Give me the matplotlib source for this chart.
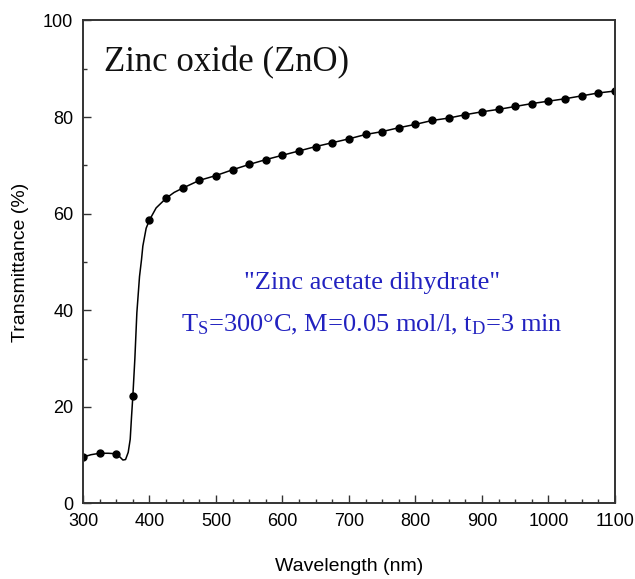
import matplotlib
matplotlib.use("Agg")
import matplotlib.pyplot as plt
from matplotlib.ticker import MultipleLocator

# Transmittance curve (line)
wl_line = [300, 312, 325, 338, 350, 355, 360, 364, 368, 371, 373, 375, 378, 381,
           385, 388, 390, 395, 400, 410, 425, 437, 450, 475, 500, 525, 550, 575,
           600, 625, 650, 675, 700, 725, 750, 775, 800, 825, 850, 875, 900, 925,
           950, 975, 1000, 1025, 1050, 1075, 1100]
tr_line = [9.6, 10.1, 10.4, 10.4, 10.3, 9.7, 9.0, 9.1, 10.6, 13.3, 18.0, 22.3, 30.0, 39.5,
           47.0, 50.5, 53.3, 57.0, 58.7, 61.2, 63.2, 64.4, 65.3, 66.9, 67.9, 69.1, 70.2, 71.2,
           72.1, 73.0, 73.9, 74.7, 75.5, 76.4, 77.0, 77.8, 78.5, 79.3, 79.8, 80.5, 81.1, 81.6,
           82.2, 82.8, 83.3, 83.8, 84.4, 85.0, 85.4]

# Marker points every 25 nm
wl_pts = [300, 325, 350, 375, 400, 425, 450, 475, 500, 525, 550, 575, 600, 625, 650,
          675, 700, 725, 750, 775, 800, 825, 850, 875, 900, 925, 950, 975, 1000,
          1025, 1050, 1075, 1100]
tr_pts = [9.6, 10.4, 10.3, 22.3, 58.7, 63.2, 65.3, 66.9, 67.9, 69.1, 70.2, 71.2, 72.1,
          73.0, 73.9, 74.7, 75.5, 76.4, 77.0, 77.8, 78.5, 79.3, 79.8, 80.5, 81.1, 81.6,
          82.2, 82.8, 83.3, 83.8, 84.4, 85.0, 85.4]

plt.rcParams["font.family"] = ["Liberation Sans", "DejaVu Sans"]
plt.rcParams["mathtext.fontset"] = "custom"
plt.rcParams["mathtext.rm"] = "Liberation Serif"

fig = plt.figure(figsize=(6.35, 5.79), dpi=100)
ax = fig.add_axes([0.1307, 0.1304, 0.8378, 0.8342])

ax.plot(wl_line, tr_line, color="black", lw=1.1)
ax.plot(wl_pts, tr_pts, "o", color="black", ms=5)

ax.set_xlim(300, 1100)
ax.set_ylim(0, 100)
ax.xaxis.set_major_locator(MultipleLocator(100))
ax.xaxis.set_minor_locator(MultipleLocator(25))
ax.yaxis.set_major_locator(MultipleLocator(20))
ax.yaxis.set_minor_locator(MultipleLocator(10))
ax.tick_params(which="both", direction="in", top=False, right=False, labelsize=13,
               color="#333333", width=1.0)
ax.tick_params(which="major", length=6, pad=7)
ax.tick_params(which="minor", length=3)
for s in ax.spines.values():
    s.set_linewidth(1.4)
    s.set_color("#333333")

ax.set_xlabel("Wavelength (nm)", fontsize=14, labelpad=20)
ax.set_ylabel("Transmittance (%)", fontsize=14, labelpad=10)

ax.text(331, 91.2, "Zinc oxide (ZnO)", family="Liberation Serif", fontsize=25,
        va="center", ha="left", color="#111111")
blue = "#2222c0"
ax.text(735, 45.6, '"Zinc acetate dihydrate"', family="Liberation Serif", fontsize=19,
        va="center", ha="center", color=blue)
ax.text(735, 37.0, r"T$\mathregular{_S}$=300°C, M=0.05 mol/l, t$\mathregular{_D}$=3 min",
        family="Liberation Serif", fontsize=19, va="center", ha="center", color=blue)

fig.savefig("out.png", dpi=100)
